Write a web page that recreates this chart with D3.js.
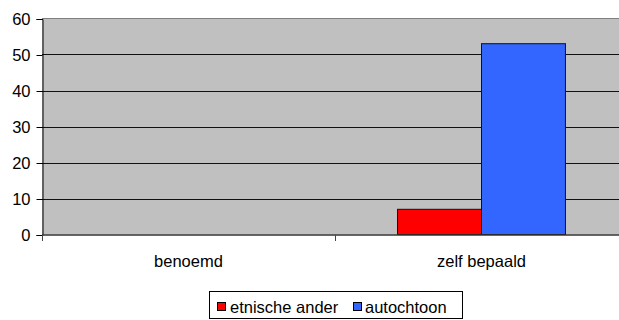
<!DOCTYPE html>
<html>
<head>
<meta charset="utf-8">
<script src="https://cdn.jsdelivr.net/npm/d3@7"></script>
<style>
  html, body { margin: 0; padding: 0; background: #fff; }
  svg { display: block; font-family: "Liberation Sans", Arial, sans-serif; }
</style>
</head>
<body>
<svg id="chart" width="619" height="320"></svg>
<script>
const categories = ["benoemd", "zelf bepaald"];
const seriesNames = ["etnische ander", "autochtoon"];
const seriesColors = ["#ff0000", "#3366ff"];
const etnischeAnder = [0, 7];
const autochtoon = [0, 53];
const yTicks = [0, 10, 20, 30, 40, 50, 60];

const FONT = 16.5;
const svg = d3.select("#chart");
const plot = { left: 42, right: 628, top: 18.5, bottom: 234.5 };

const x = d3.scaleBand().domain(categories).range([plot.left, plot.right]);
const xs = d3.scaleBand().domain(seriesNames).range([0, x.bandwidth()]).paddingInner(0).paddingOuter(0.745);
const y = d3.scaleLinear().domain([0, 60]).range([plot.bottom, plot.top]);

// plot background
svg.append("rect")
  .attr("x", plot.left).attr("y", plot.top)
  .attr("width", plot.right - plot.left).attr("height", plot.bottom - plot.top)
  .attr("fill", "#c0c0c0");

// top border of plot area
svg.append("line")
  .attr("x1", plot.left).attr("x2", plot.right)
  .attr("y1", plot.top).attr("y2", plot.top)
  .attr("stroke", "#808080").attr("stroke-width", 1);

// gridlines
svg.append("g").selectAll("line")
  .data(yTicks.filter(d => d > 0 && d < 60))
  .join("line")
  .attr("x1", plot.left).attr("x2", plot.right)
  .attr("y1", d => Math.round(y(d)) + 0.5).attr("y2", d => Math.round(y(d)) + 0.5)
  .attr("stroke", "#111").attr("stroke-width", 1);

// bars
const seriesData = [etnischeAnder, autochtoon];
seriesData.forEach((vals, si) => {
  svg.append("g").selectAll("rect")
    .data(categories.map((c, i) => ({ c, v: vals[i] })).filter(d => d.v > 0))
    .join("rect")
    .attr("x", d => x(d.c) + xs(seriesNames[si]))
    .attr("y", d => y(d.v))
    .attr("width", xs.bandwidth())
    .attr("height", d => y(0) - y(d.v))
    .attr("fill", seriesColors[si])
    .attr("stroke", "#111").attr("stroke-width", 1);
});

// y axis
const yAxis = svg.append("g")
  .attr("transform", `translate(${plot.left + 0.5},0.5)`)
  .call(d3.axisLeft(y).tickValues(yTicks).tickSize(6).tickPadding(6).tickFormat(d3.format("d")));
yAxis.select(".domain").attr("stroke", "#000");
yAxis.selectAll(".tick line").attr("stroke", "#000");
yAxis.selectAll(".tick text").attr("font-size", FONT).attr("fill", "#000")
  .attr("font-family", "Liberation Sans, Arial, sans-serif");

// x axis
const xAxisG = svg.append("g").attr("transform", `translate(0,${plot.bottom + 0.5})`);
xAxisG.append("line")
  .attr("x1", plot.left).attr("x2", plot.right)
  .attr("stroke", "#333").attr("stroke-width", 1.5);
xAxisG.selectAll("line.tick")
  .data([plot.left, ...categories.map(c => x(c) + x.bandwidth())])
  .join("line").attr("class", "tick")
  .attr("x1", d => Math.round(d) + 0.5).attr("x2", d => Math.round(d) + 0.5)
  .attr("y1", 0).attr("y2", 6).attr("stroke", "#444");
xAxisG.selectAll("text")
  .data(categories)
  .join("text")
  .attr("x", d => x(d) + x.bandwidth() / 2)
  .attr("y", 32)
  .attr("text-anchor", "middle")
  .attr("font-size", FONT)
  .attr("fill", "#000")
  .text(d => d);

// legend
const legend = svg.append("g");
legend.append("rect")
  .attr("x", 209.5).attr("y", 291.5).attr("width", 253).attr("height", 27)
  .attr("fill", "#fff").attr("stroke", "#000");
const legendItems = [
  { name: seriesNames[0], color: seriesColors[0], sx: 217, tx: 230 },
  { name: seriesNames[1], color: seriesColors[1], sx: 353, tx: 365 }
];
legendItems.forEach(it => {
  legend.append("rect")
    .attr("x", it.sx + 0.5).attr("y", 302.5).attr("width", 8).attr("height", 8)
    .attr("fill", it.color).attr("stroke", "#000");
  legend.append("text")
    .attr("x", it.tx).attr("y", 312.5)
    .attr("font-size", FONT).attr("fill", "#000")
    .text(it.name);
});
</script>
</body>
</html>
